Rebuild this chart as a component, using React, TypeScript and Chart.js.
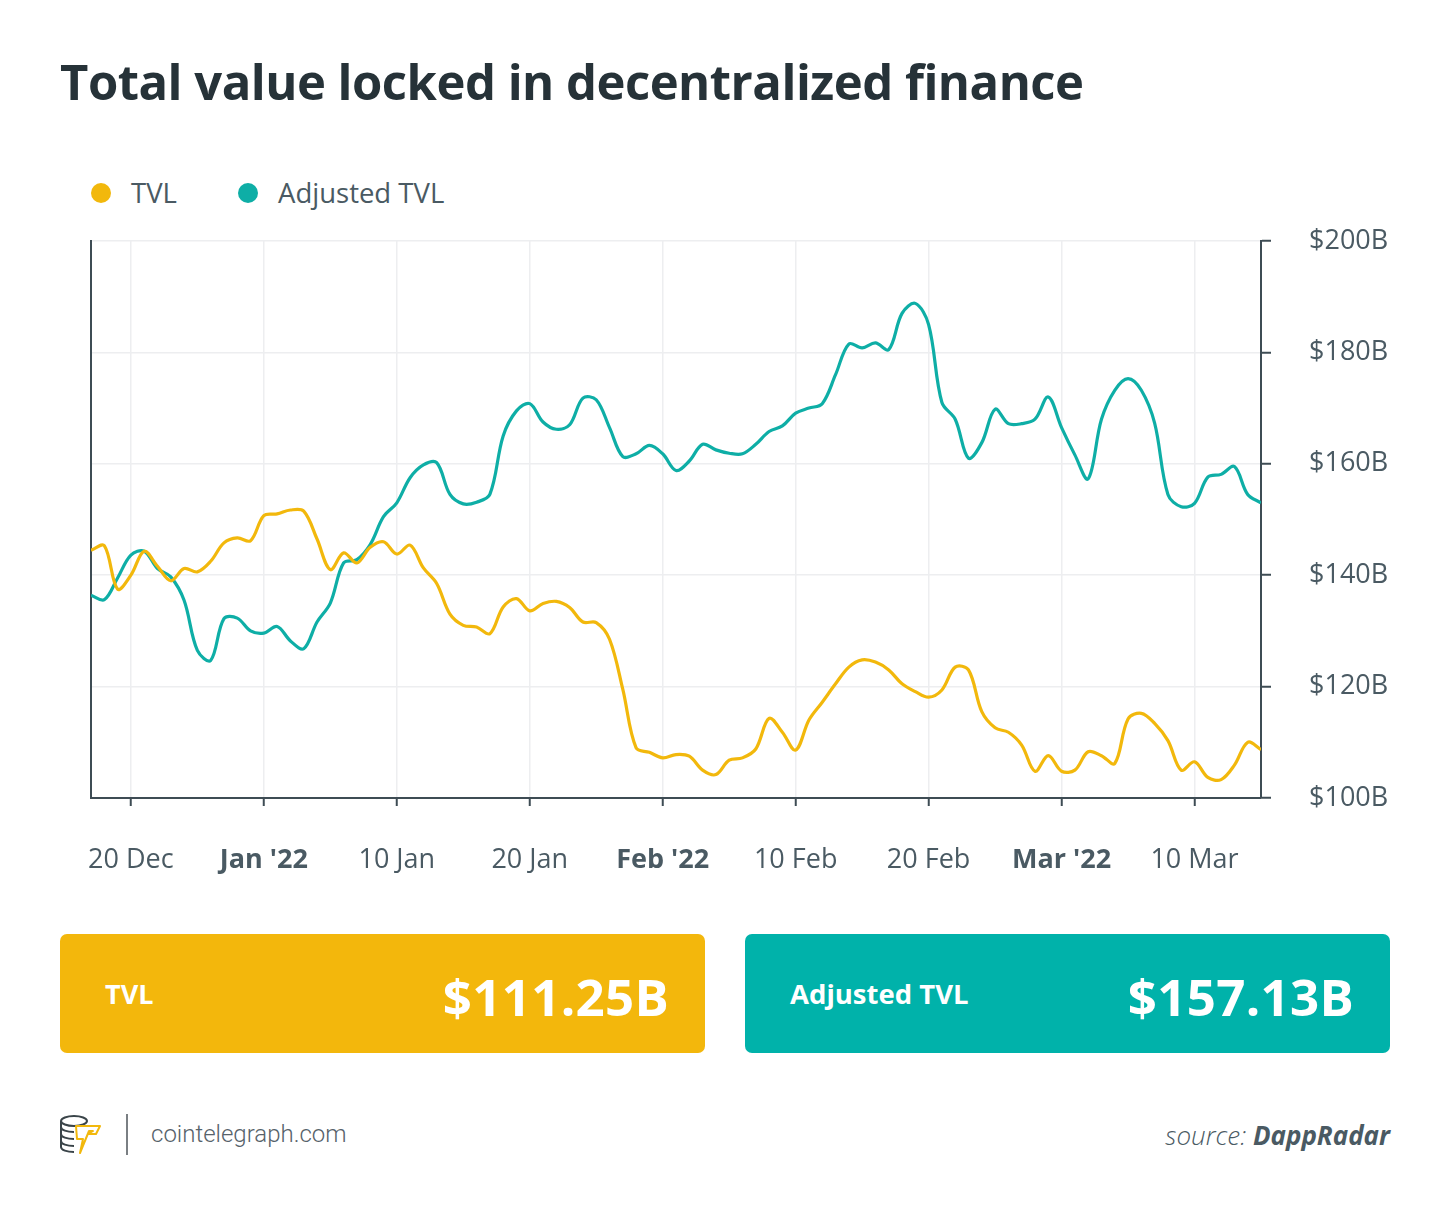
import React, { useEffect, useRef } from 'react';
import { Chart, registerables } from 'chart.js';

Chart.register(...registerables);

// Daily values, $B
const tvl = [
  144.5, 145.3, 137.5, 140.0, 144.3, 141.6, 139.0, 141.2, 140.6, 142.5,
  145.8, 146.7, 146.2, 150.7, 151.0, 151.7, 151.5, 146.5, 141.0, 144.0,
  142.2, 145.0, 146.0, 143.8, 145.4, 141.3, 138.5, 133.0, 131.0, 130.7,
  129.5, 134.3, 135.8, 133.6, 134.9, 135.3, 134.2, 131.6, 131.5, 128.5,
  119.5, 109.0, 108.2, 107.2, 107.8, 107.5, 105.0, 104.2, 106.8, 107.2,
  108.8, 114.3, 111.8, 108.6, 114.0, 117.2, 120.5, 123.5, 124.8, 124.4,
  123.0, 120.5, 119.1, 118.1, 119.4, 123.5, 123.0, 115.5, 112.6, 111.8,
  109.5, 104.8, 107.6, 104.8, 105.0, 108.3, 107.6, 106.2, 114.2, 115.2,
  113.4, 110.3, 105.0, 106.5, 103.7, 103.3, 105.9, 110.0, 108.7,
];

const adjustedTvl = [
  136.4, 135.6, 139.5, 143.6, 144.3, 141.2, 139.7, 135.5, 126.5, 124.7,
  132.2, 132.3, 130.0, 129.6, 130.8, 128.2, 126.8, 131.6, 135.0, 142.2,
  142.8, 145.5, 150.5, 153.0, 157.5, 159.8, 160.2, 154.5, 152.8, 153.1,
  154.5, 165.0, 169.5, 170.8, 167.5, 166.2, 167.0, 171.8, 171.5, 166.5,
  161.3, 161.8, 163.3, 161.8, 158.8, 160.5, 163.5, 162.5, 161.9, 161.8,
  163.5, 165.8, 166.8, 169.1, 170.0, 170.8, 176.0, 181.5, 180.8, 181.7,
  180.5, 187.0, 188.8, 185.0, 171.0, 168.0, 161.0, 163.8, 169.8, 167.2,
  167.2, 168.0, 172.0, 166.5, 161.6, 157.3, 168.0, 173.2, 175.3, 173.2,
  167.3, 154.5, 152.3, 152.9, 157.6, 158.1, 159.5, 154.5, 153.0,
];

const tickDays = [3, 13, 23, 33, 43, 53, 63, 73, 83];
const tickLabels = ['20 Dec', "Jan '22", '10 Jan', '20 Jan', "Feb '22", '10 Feb', '20 Feb', "Mar '22", '10 Mar'];
const majorLabels = ["Jan '22", "Feb '22", "Mar '22"];
const yTicks = [100, 120, 140, 160, 180, 200];

const YELLOW = '#F2B80C';
const TEAL = '#0EAEA6';
const BOX_YELLOW = '#F3B70C';
const BOX_TEAL = '#00B2AA';
const AXIS = '#3E4C54';
const TEXT = '#4A5A63';
const GRID = '#EDEEF0';
const FONT = '"Open Sans", "Noto Sans", sans-serif';

function LineChart() {
  const ref = useRef<HTMLCanvasElement | null>(null);
  useEffect(() => {
    if (!ref.current) return;
    const chart = new Chart(ref.current, {
      type: 'line',
      data: {
        datasets: [
          {
            label: 'TVL',
            data: tvl.map((v, i) => ({ x: i, y: v })),
            borderColor: YELLOW,
            borderWidth: 3.2,
            pointRadius: 0,
            tension: 0.35,
            yAxisID: 'y',
          },
          {
            label: 'Adjusted TVL',
            data: adjustedTvl.map((v, i) => ({ x: i, y: v })),
            borderColor: TEAL,
            borderWidth: 3.2,
            pointRadius: 0,
            tension: 0.35,
            yAxisID: 'y',
          },
        ],
      },
      options: {
        animation: false,
        responsive: false,
        maintainAspectRatio: false,
        layout: { padding: { left: 91, top: 21, right: 0, bottom: 0 } },
        plugins: { legend: { display: false }, tooltip: { enabled: false } },
        scales: {
          x: {
            type: 'linear',
            position: 'bottom',
            min: 0,
            max: tvl.length - 1,
            afterBuildTicks: (s: any) => {
              s.ticks = tickDays.map((v) => ({ value: v }));
            },
            afterFit: (s: any) => {
              s.height = 102;
              s.paddingLeft = 0;
              s.paddingRight = 0;
            },
            ticks: {
              autoSkip: false,
              maxRotation: 0,
              padding: 38,
              color: TEXT,
              font: (c: any) => ({
                family: FONT,
                size: 27,
                weight: majorLabels.includes(tickLabels[c.index]) ? 'bold' : 'normal',
              }),
              callback: (_v: any, i: number) => tickLabels[i],
            },
            grid: { color: GRID, lineWidth: 1.5, tickColor: AXIS, tickLength: 8, tickWidth: 2 },
            border: { color: AXIS, width: 2 },
          },
          y: {
            type: 'linear',
            position: 'right',
            min: 100,
            max: 200,
            afterBuildTicks: (s: any) => {
              s.ticks = yTicks.map((v) => ({ value: v }));
            },
            afterFit: (s: any) => {
              s.width = 189;
              s.paddingTop = 0;
              s.paddingBottom = 0;
            },
            ticks: {
              padding: 38,
              color: TEXT,
              font: { family: FONT, size: 27 },
              callback: (v: any) => `$${v}B`,
            },
            grid: { color: GRID, lineWidth: 1.5, tickColor: AXIS, tickLength: 10, tickWidth: 2 },
            border: { color: AXIS, width: 2 },
          },
          yl: {
            type: 'linear',
            position: 'left',
            min: 100,
            max: 200,
            afterFit: (s: any) => {
              s.width = 0;
              s.paddingTop = 0;
              s.paddingBottom = 0;
            },
            ticks: { display: false },
            grid: { display: false, drawTicks: false },
            border: { display: true, color: AXIS, width: 2 },
          },
        },
      } as any,
    });
    return () => chart.destroy();
  }, []);
  return <canvas ref={ref} width={1450} height={680} style={{ width: 1450, height: 680, display: 'block' }} />;
}

function Logo() {
  return (
    <svg width="46" height="44" viewBox="0 0 46 44" style={{ position: 'absolute', left: 58, top: 1113 }}>
      <g fill="none" stroke="#3a4449" strokeWidth="2">
        <ellipse cx="16" cy="8" rx="13" ry="5" />
        <path d="M3 8 v6 c0 3 6 5 13 5" />
        <path d="M3 14 v7 c0 3 6 5 13 5" />
        <path d="M3 21 v7 c0 3 6 5 13 5" />
        <path d="M3 28 v6 c0 3 6 5 13 5" />
      </g>
      <path d="M18 13 h24 l-4 8 h-8 l5 -3 h-4 l-9 22 l3 -14 h-6 z" fill="#fff" stroke="#F2B80C" strokeWidth="2" strokeLinejoin="round" />
    </svg>
  );
}

export default function App() {
  const abs = (l: number, t: number): React.CSSProperties => ({ position: 'absolute', left: l, top: t });
  return (
    <div style={{ position: 'absolute', left: 0, top: 0, width: 1450, height: 1215, background: '#fff', fontFamily: FONT, overflow: 'hidden' }}>
      <div style={{ ...abs(60, 56), fontSize: 49, fontWeight: 700, lineHeight: '50px', color: '#263238', whiteSpace: 'nowrap', letterSpacing: -0.5 }}>
        Total value locked in decentralized finance
      </div>

      {/* Legend */}
      <div style={{ ...abs(91, 183), width: 20, height: 20, borderRadius: 10, background: YELLOW }} />
      <div style={{ ...abs(131, 173), height: 40, lineHeight: '40px', fontSize: 27.5, color: TEXT }}>TVL</div>
      <div style={{ ...abs(238, 183), width: 20, height: 20, borderRadius: 10, background: TEAL }} />
      <div style={{ ...abs(278, 173), height: 40, lineHeight: '40px', fontSize: 27.5, color: TEXT }}>Adjusted TVL</div>

      <div style={{ ...abs(0, 220) }}>
        <LineChart />
      </div>

      {/* Value boxes */}
      <div style={{ ...abs(60, 934), width: 645, height: 119, borderRadius: 7, background: BOX_YELLOW, color: '#fff' }}>
        <div style={{ ...abs(45, 40), height: 40, lineHeight: '40px', fontSize: 27, fontWeight: 700 }}>TVL</div>
        <div style={{ position: 'absolute', right: 36, top: 32, height: 60, lineHeight: '60px', fontSize: 51, fontWeight: 700, letterSpacing: 0.3 }}>$111.25B</div>
      </div>
      <div style={{ ...abs(745, 934), width: 645, height: 119, borderRadius: 7, background: BOX_TEAL, color: '#fff' }}>
        <div style={{ ...abs(45, 40), height: 40, lineHeight: '40px', fontSize: 27.5, fontWeight: 700 }}>Adjusted TVL</div>
        <div style={{ position: 'absolute', right: 36, top: 32, height: 60, lineHeight: '60px', fontSize: 51, fontWeight: 700, letterSpacing: 0.3 }}>$157.13B</div>
      </div>

      {/* Footer */}
      <Logo />
      <div style={{ ...abs(126, 1114), width: 2, height: 41, background: '#7a7f83' }} />
      <div style={{ ...abs(151, 1118), height: 32, lineHeight: '32px', fontSize: 24, fontWeight: 300, fontFamily: 'Roboto, sans-serif', color: '#56626a' }}>
        cointelegraph.com
      </div>
      <div style={{ position: 'absolute', right: 60, top: 1117, height: 36, lineHeight: '36px', fontSize: 26, fontStyle: 'italic', color: '#4A5A63', whiteSpace: 'nowrap' }}>
        <span style={{ fontWeight: 300 }}>source: </span>
        <span style={{ fontWeight: 700 }}>DappRadar</span>
      </div>
    </div>
  );
}
